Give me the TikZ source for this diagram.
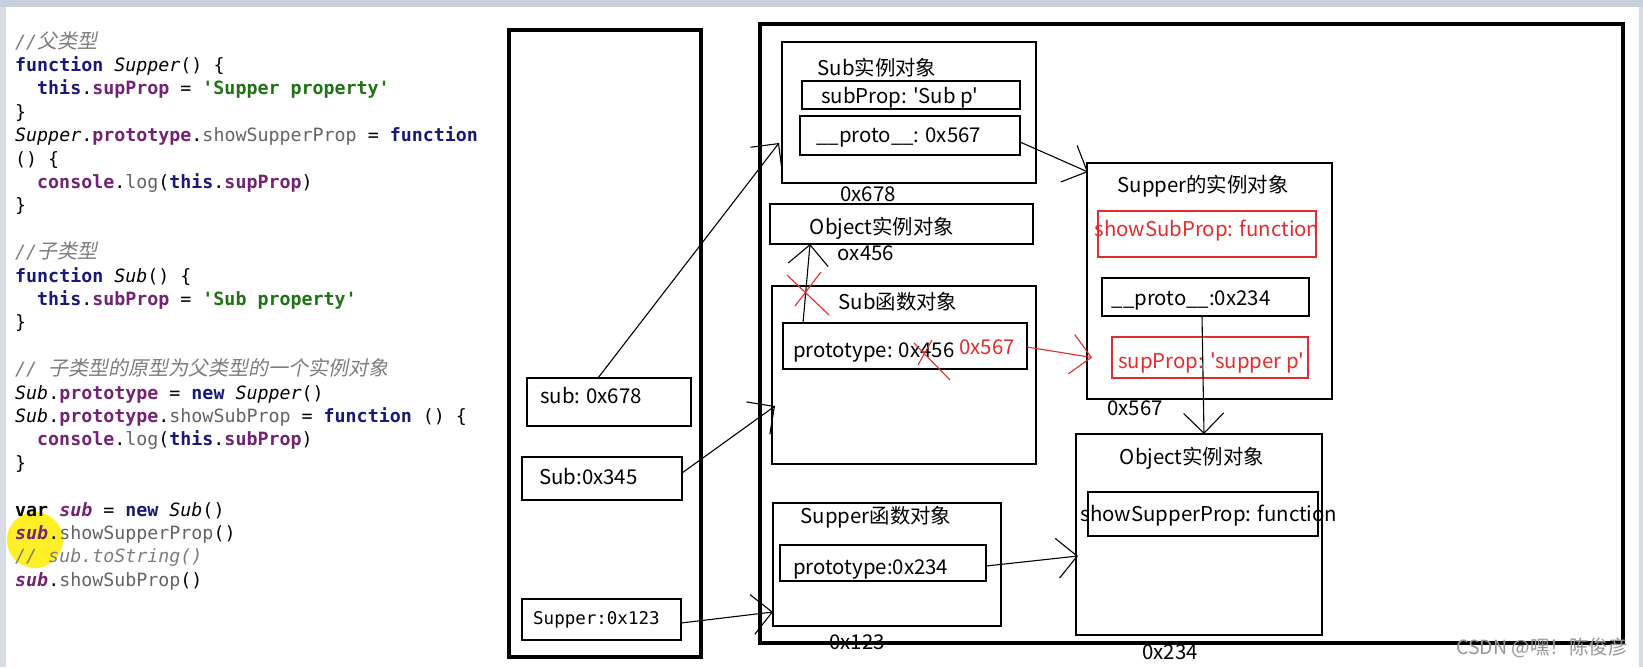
\documentclass[tikz,border=0pt]{standalone}
\usepackage{fontspec}
\setmainfont{Noto Sans CJK SC}[Ligatures=TeXOff]
\newfontfamily\codefont{DejaVu Sans Mono}[Ligatures=TeXOff]
\newfontfamily\cjkit{Noto Sans CJK SC}[FakeSlant=0.2]
\usetikzlibrary{arrows.meta}

\definecolor{kwblue}{RGB}{25,25,120}
\definecolor{fieldpurple}{RGB}{115,35,115}
\definecolor{strgreen}{RGB}{30,115,20}
\definecolor{cmtgray}{RGB}{125,125,125}
\definecolor{methgray}{RGB}{100,100,100}
\definecolor{penred}{RGB}{225,45,45}
\definecolor{barblue}{RGB}{200,208,222}
\definecolor{edgegray}{RGB}{214,219,228}
\definecolor{markgray}{RGB}{150,150,150}

% code colouring
\newcommand{\jkw}[1]{{\bfseries\color{kwblue}#1}}
\newcommand{\jfld}[1]{{\bfseries\color{fieldpurple}#1}}
\newcommand{\jstr}[1]{{\bfseries\color{strgreen}#1}}
\newcommand{\jmth}[1]{{\color{methgray}#1}}
\newcommand{\jfn}[1]{{\itshape #1}}
\newcommand{\jvar}[1]{{\bfseries\itshape\color{fieldpurple}#1}}
\newcommand{\jzh}[1]{{\cjkit\fontsize{20}{22}\selectfont #1}}
\newcommand{\jcmt}[1]{{\color{cmtgray}\itshape #1}}

\begin{document}
\begin{tikzpicture}[x=1pt, y=-1pt,
    box/.style={draw, line width=1.3pt, inner sep=0, outer sep=0},
    frame/.style={draw, line width=3.2pt, inner sep=0, outer sep=0},
    redbox/.style={draw=penred, line width=1.2pt, inner sep=0, outer sep=0},
    lbl/.style={inner sep=0, text height=16pt, text depth=4pt, font=\fontsize{20.4}{24}\selectfont},
    code/.style={anchor=west, inner sep=0, text height=14pt, text depth=4pt, font=\codefont\fontsize{18.3}{22}\selectfont},
    hand/.style={line width=1.1pt, -{Straight Barb[length=20pt,width=40pt]}},
    pen/.style={penred, line width=1.1pt}]

    \useasboundingbox (0,0) rectangle (1643,667);
    \fill [white] (0,0) rectangle (1643,667);
    \fill [barblue] (0,0) rectangle (1643,7);
    \fill [edgegray] (0,7) rectangle (6,667);
    \fill [edgegray] (1639,7) rectangle (1643,667);

    % source code
    \fill [yellow!95!orange, opacity=0.85] (35,540) circle (28);
    \node [code] (code01) at (15,43) {\jcmt{//\jzh{父类型}}};
    \node [code] (code02) at (15,66.4) {\jkw{function} \jfn{Supper}() \{};
    \node [code] (code03) at (37,89.8) {\jkw{this}.\jfld{supProp} = \jstr{'Supper property'}};
    \node [code] (code04) at (15,113.2) {\}};
    \node [code] (code05) at (15,136.6) {\jfn{Supper}.\jfld{prototype}.\jmth{showSupperProp} = \jkw{function}};
    \node [code] (code06) at (15,160) {() \{};
    \node [code] (code07) at (37,183.4) {\jfld{console}.\jmth{log}(\jkw{this}.\jfld{supProp})};
    \node [code] (code08) at (15,206.8) {\}};
    \node [code] (code09) at (15,253.6) {\jcmt{//\jzh{子类型}}};
    \node [code] (code10) at (15,277) {\jkw{function} \jfn{Sub}() \{};
    \node [code] (code11) at (37,300.4) {\jkw{this}.\jfld{subProp} = \jstr{'Sub property'}};
    \node [code] (code12) at (15,323.8) {\}};
    \node [code] (code13) at (15,370.6) {\jcmt{// \jzh{子类型的原型为父类型的一个实例对象}}};
    \node [code] (code14) at (15,394) {\jfn{Sub}.\jfld{prototype} = \jkw{new} \jfn{Supper}()};
    \node [code] (code15) at (15,417.4) {\jfn{Sub}.\jfld{prototype}.\jmth{showSubProp} = \jkw{function} () \{};
    \node [code] (code16) at (37,440.8) {\jfld{console}.\jmth{log}(\jkw{this}.\jfld{subProp})};
    \node [code] (code17) at (15,464.2) {\}};
    \node [code] (code18) at (15,511) {\textbf{var} \jvar{sub} = \jkw{new} \jfn{Sub}()};
    \node [code] (code19) at (15,534.4) {\jvar{sub}.\jmth{showSupperProp}()};
    \node [code] (code20) at (15,557.8) {\jcmt{// sub.toString()}};
    \node [code] (code21) at (15,581.2) {\jvar{sub}.\jmth{showSubProp}()};

    % stack and heap
    \node [frame, minimum width=192pt, minimum height=627pt] (stack) at (605,343.5) {};
    \node [frame, minimum width=863pt, minimum height=619pt] (heap) at (1191.5,333.5) {};

    \node [box, minimum width=164pt, minimum height=48pt] (subvar) at (609,402) {};
    \node [box, minimum width=160pt, minimum height=43pt] (subfnvar) at (602,478.5) {};
    \node [box, minimum width=159pt, minimum height=41pt] (supfnvar) at (601.5,619.5) {};

    \node [box, minimum width=254pt, minimum height=141pt] (subinst) at (909,112.5) {};
    \node [box, minimum width=218pt, minimum height=28pt] (subinstprop) at (911,95) {};
    \node [box, minimum width=220pt, minimum height=39pt] (subinstproto) at (910,135.5) {};
    \node [box, minimum width=263pt, minimum height=40pt] (objtop) at (901.5,224) {};
    \node [box, minimum width=264pt, minimum height=178pt] (subfn) at (904,375) {};
    \node [box, minimum width=244pt, minimum height=46pt] (subfnproto) at (905,346) {};
    \node [box, minimum width=228pt, minimum height=123pt] (supfn) at (887,564.5) {};
    \node [box, minimum width=206pt, minimum height=36pt] (supfnproto) at (883,563) {};

    \node [box, minimum width=245pt, minimum height=236pt] (supinst) at (1209.5,281) {};
    \node [redbox, minimum width=218pt, minimum height=46pt] (showsub) at (1207,234) {};
    \node [box, minimum width=207pt, minimum height=38pt] (supinstproto) at (1205.5,297) {};
    \node [redbox, minimum width=196pt, minimum height=41pt] (supprop) at (1210,357.5) {};
    \node [box, minimum width=246pt, minimum height=201pt] (objbot) at (1199,534.5) {};
    \node [box, minimum width=230pt, minimum height=44pt] (showsup) at (1203,514) {};

    % texts
    \node [lbl, anchor=west] (subvartext) at (540,397) {sub: 0x678};
    \node [lbl, anchor=west] (subfnvartext) at (539,478) {Sub:0x345};
    \node [lbl, anchor=west, font=\codefont\fontsize{17.5}{20}\selectfont] (supfnvartext) at (533,618) {Supper:0x123};

    \node [lbl] (subinsttitle) at (877,69) {Sub实例对象};
    \node [lbl, anchor=west] (subinstproptext) at (821,97) {subProp: 'Sub p'};
    \node [lbl, anchor=west] (subinstprototext) at (816,136) {\_\_proto\_\_: 0x567};
    \node [lbl] (addr678) at (868,195) {0x678};
    \node [lbl] (objtoptitle) at (882,228) {Object实例对象};
    \node [lbl] (addr456) at (866,254) {ox456};
    \node [lbl] (subfntitle) at (898,303) {Sub函数对象};
    \node [lbl, anchor=west] (subfnprototext) at (793,351) {prototype: 0x456};
    \node [lbl, text=penred] (newaddr) at (987,348) {0x567};
    \node [lbl] (supfntitle) at (876,517) {Supper函数对象};
    \node [lbl, anchor=west] (supfnprototext) at (793,568) {prototype:0x234};
    \node [lbl] (addr123) at (857,643) {0x123};

    \node [lbl] (supinsttitle) at (1203,186) {Supper的实例对象};
    \node [lbl, text=penred] (showsubtext) at (1207,230) {showSubProp: function};
    \node [lbl] (supinstprototext) at (1191,299) {\_\_proto\_\_:0x234};
    \node [lbl, text=penred] (supproptext) at (1211,362) {supProp: 'supper p'};
    \node [lbl] (addr567) at (1135,409) {0x567};
    \node [lbl] (objbottitle) at (1192,458) {Object实例对象};
    \node [lbl] (showsuptext) at (1209,515) {showSupperProp: function};
    \node [lbl] (addr234) at (1170,653) {0x234};
    \node [lbl, text=markgray, font=\fontsize{19.5}{22}\selectfont] (mark) at (1542,648) {CSDN @嘿！陈俊彦};

    % references
    \draw [hand] ([xshift=-11pt]subvar.north) -- ([xshift=-3pt, yshift=-30.5pt]subinst.west);
    \draw [hand] ([yshift=5.5pt]subfnvar.east) -- ([xshift=3pt, yshift=-31pt]subfn.west);
    \draw [hand] ([yshift=-3.5pt]supfnvar.east) -- ([yshift=-47.5pt]supfn.west);
    \draw [hand] ([xshift=-102pt]subfnproto.north) -- ([xshift=-91.5pt]objtop.south);
    \draw [hand] ([yshift=-6.5pt]subinstproto.east) -- ([xshift=1pt, yshift=-9pt]supinst.north west);
    \draw [hand, pen] ([yshift=-1pt]subfnproto.east) -- ([xshift=-20pt]supprop.west);
    \draw [hand] ([xshift=-3.5pt]supinstproto.south) -- ([xshift=5pt]objbot.north);
    \draw [hand] ([yshift=-3pt]supfnproto.east) -- ([xshift=2pt, yshift=-21.5pt]objbot.west);

    % crossed out
    \draw [pen] (787,275) -- (829,315);
    \draw [pen] (821,272) -- (795,306);
    \draw [pen] (914,343) -- (950,380);
    \draw [pen] (932,340) -- (918,365);

\end{tikzpicture}
\end{document}
